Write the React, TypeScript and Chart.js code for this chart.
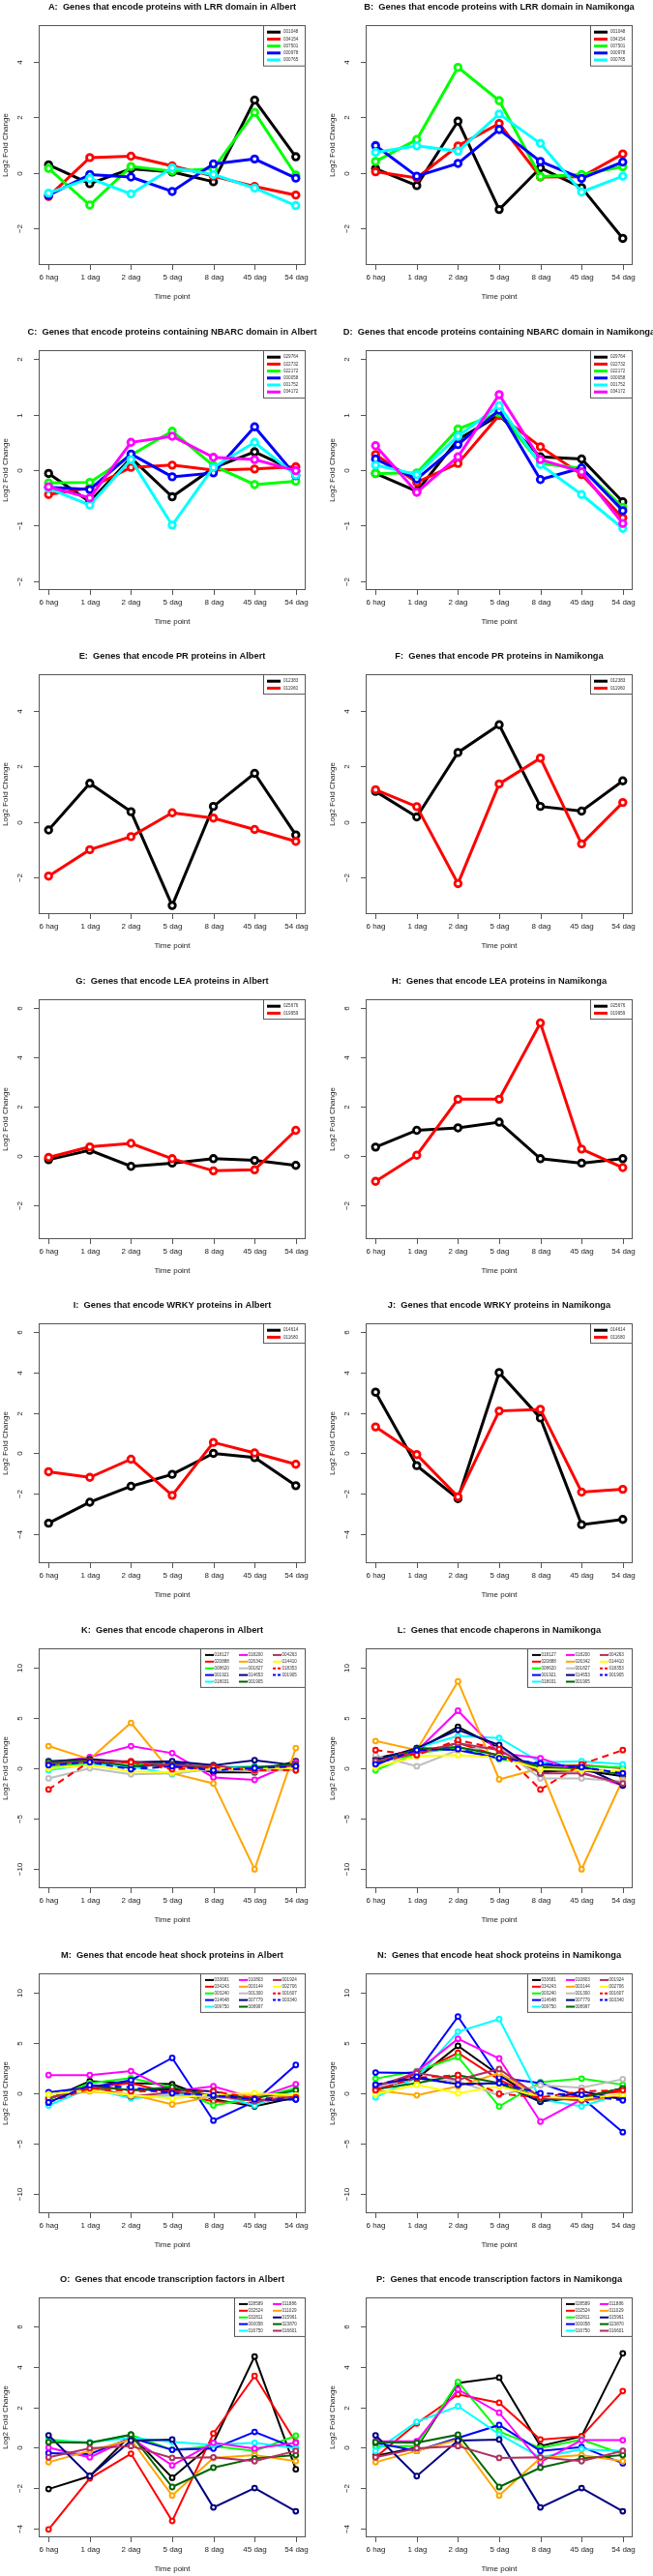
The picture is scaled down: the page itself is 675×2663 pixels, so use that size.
import React, { useEffect, useRef } from "react";
import { Chart, registerables } from "chart.js";
Chart.register(...registerables);

// ---------- data ----------
const timeLabels = ["6 hag", "1 dag", "2 dag", "5 dag", "8 dag", "45 dag", "54 dag"];

const lrrGenes = ["001048", "034154", "007501", "000978", "000765"];
const lrrColors = ["#000000", "#FF0000", "#00FF00", "#0000FF", "#00FFFF"];
const aValues = [
  [0.29, -0.39, 0.15, 0.03, -0.32, 2.62, 0.58],
  [-0.85, 0.55, 0.6, 0.25, -0.12, -0.49, -0.8],
  [0.16, -1.16, 0.23, 0.06, 0.15, 2.18, -0.08],
  [-0.81, -0.06, -0.15, -0.67, 0.32, 0.5, -0.19],
  [-0.73, -0.2, -0.76, 0.18, -0.06, -0.55, -1.18],
];
const bValues = [
  [0.15, -0.46, 1.86, -1.32, 0.18, -0.53, -2.36],
  [0.04, -0.18, 0.97, 1.78, -0.15, -0.14, 0.68],
  [0.41, 1.2, 3.8, 2.6, -0.13, -0.06, 0.22],
  [0.98, -0.12, 0.34, 1.56, 0.41, -0.2, 0.39],
  [0.74, 0.97, 0.78, 2.12, 1.06, -0.69, -0.12],
];

const nbarcGenes = ["029764", "022732", "022172", "000058", "001752", "034172"];
const nbarcColors = ["#000000", "#FF0000", "#00FF00", "#0000FF", "#00FFFF", "#FF00FF"];
const cValues = [
  [-0.06, -0.57, 0.22, -0.48, 0.04, 0.33, -0.02],
  [-0.44, -0.32, 0.05, 0.09, 0.0, 0.02, 0.06],
  [-0.23, -0.22, 0.27, 0.7, 0.08, -0.26, -0.2],
  [-0.31, -0.35, 0.29, -0.12, -0.05, 0.78, -0.1],
  [-0.33, -0.63, 0.19, -0.99, 0.05, 0.5, -0.09],
  [-0.3, -0.5, 0.5, 0.61, 0.23, 0.19, -0.01],
];
const dValues = [
  [-0.06, -0.38, 0.55, 0.99, 0.24, 0.2, -0.57],
  [0.28, -0.22, 0.12, 0.99, 0.42, -0.08, -0.86],
  [-0.06, -0.05, 0.74, 1.03, 0.12, 0.03, -0.67],
  [0.2, -0.16, 0.46, 1.08, -0.17, 0.04, -0.73],
  [0.09, -0.08, 0.61, 1.16, 0.1, -0.44, -1.05],
  [0.44, -0.4, 0.24, 1.36, 0.19, -0.03, -0.96],
];

const prGenes = ["012383", "011960"];
const twoColors = ["#000000", "#FF0000"];
const eValues = [
  [-0.29, 1.39, 0.37, -3.01, 0.56, 1.75, -0.47],
  [-1.95, -1.0, -0.53, 0.33, 0.14, -0.27, -0.7],
];
const fValues = [
  [1.1, 0.18, 2.5, 3.5, 0.56, 0.39, 1.48],
  [1.16, 0.55, -2.22, 1.37, 2.3, -0.79, 0.7],
];

const leaGenes = ["025676", "019959"];
const gValues = [
  [-0.14, 0.24, -0.41, -0.28, -0.1, -0.17, -0.37],
  [-0.05, 0.38, 0.52, -0.1, -0.59, -0.55, 1.05],
];
const hValues = [
  [0.37, 1.05, 1.15, 1.38, -0.1, -0.28, -0.1],
  [-1.02, 0.04, 2.31, 2.31, 5.4, 0.29, -0.46],
];

const wrkyGenes = ["014614", "011680"];
const iValues = [
  [-3.46, -2.42, -1.63, -1.04, 0.0, -0.21, -1.6],
  [-0.91, -1.19, -0.29, -2.08, 0.54, 0.02, -0.54],
];
const jValues = [
  [3.03, -0.61, -2.24, 4.0, 1.75, -3.53, -3.27],
  [1.31, -0.06, -2.15, 2.1, 2.18, -1.92, -1.78],
];

const chapGenes = ["018127", "020888", "008620", "001921", "018031", "018200", "026342",
  "001827", "014653", "001905", "004263", "014410", "018353", "001905"];
const manyColors = ["#000000", "#FF0000", "#00FF00", "#0000FF", "#00FFFF", "#FF00FF", "#FFA500",
  "#BEBEBE", "#000080", "#006400", "#B03060", "#FFFF00", "#FF0000", "#0000FF"];
const manyDashed = [false, false, false, false, false, false, false, false, false, false, false, false, true, true];
const kValues = [
  [0.6, 0.8, 0.6, 0.5, -0.4, -0.4, 0.7],
  [0.3, 0.7, 0.7, 0.1, 0.3, -0.2, -0.2],
  [0.2, 0.5, 0.3, 0.5, 0.1, 0.1, 0.2],
  [0.5, 0.7, 0.0, 0.6, -0.2, 0.1, 0.2],
  [-0.2, 0.4, 0.2, -0.6, 0.1, 0.2, 0.1],
  [0.5, 1.1, 2.2, 1.5, -0.9, -1.15, 0.6],
  [2.2, 0.9, 4.5, -0.5, -1.5, -10.0, 2.0],
  [-1.0, 0.0, -0.6, -0.5, -0.1, -0.3, -0.2],
  [0.7, 0.9, 0.6, 0.7, 0.3, 0.8, 0.3],
  [0.6, 0.8, 0.2, 0.4, 0.0, 0.1, 0.4],
  [0.4, 0.7, 0.6, 0.3, 0.2, -0.2, 0.3],
  [0.0, 0.3, -0.3, -0.4, 0.0, -0.1, 0.0],
  [-2.1, 0.7, 0.6, -0.1, 0.1, -0.2, -0.2],
  [0.3, 0.6, -0.1, 0.2, -0.2, 0.0, 0.2],
];
const lValues = [
  [1.0, 1.8, 4.1, 2.0, -0.3, -0.2, -0.8],
  [0.5, 1.5, 2.5, 1.2, 0.2, 0.3, 0.0],
  [-0.2, 1.5, 2.0, 0.9, 0.3, 0.2, 0.1],
  [0.3, 2.0, 1.8, 1.0, 0.4, 0.1, -0.6],
  [0.6, 2.0, 3.2, 3.0, 0.6, 0.7, 0.4],
  [0.6, 1.7, 5.7, 1.5, 1.0, -0.4, -1.7],
  [2.7, 1.8, 8.6, -1.1, 0.0, -10.0, -1.1],
  [1.3, 0.2, 1.8, 2.1, -1.0, -1.0, -1.3],
  [0.8, 2.0, 3.8, 2.3, -0.5, 0.2, -1.7],
  [0.5, 1.9, 2.1, 1.3, 0.1, -0.1, -0.5],
  [0.7, 1.5, 2.5, 1.8, -0.5, -0.5, -1.5],
  [0.1, 1.2, 1.3, 1.1, -0.1, -0.2, -0.3],
  [1.8, 1.3, 2.8, 1.9, -2.1, 0.4, 1.8],
  [0.4, 1.8, 1.9, 1.0, 0.5, 0.1, -0.5],
];

const hspGenes = ["033681", "034243", "003240", "014648", "009750", "010803", "003144",
  "001300", "007779", "008997", "001924", "002706", "001607", "003340"];
const mValues = [
  [-0.6, 1.2, 1.0, 0.9, -0.6, -1.3, -0.4],
  [-0.5, 0.6, 1.0, 0.0, -0.8, -1.0, -0.2],
  [-0.6, 1.0, 1.5, 0.6, -1.2, -0.5, 0.5],
  [0.1, 0.6, 1.3, 3.5, -2.7, -0.8, 2.8],
  [-1.2, 0.5, -0.5, -0.2, -0.1, -1.2, 0.3],
  [1.8, 1.8, 2.2, 0.2, 0.7, -0.5, 0.9],
  [-0.4, 0.2, -0.1, -1.1, -0.3, -0.2, -0.3],
  [-0.8, 0.4, -0.3, -0.2, -0.4, -0.6, -0.5],
  [-0.9, 0.8, 0.3, 0.4, 0.2, -0.7, -0.6],
  [-0.5, 0.7, 0.3, 0.6, -0.3, -0.5, 0.3],
  [-0.5, 0.7, -0.3, 0.1, -0.2, -0.8, -0.3],
  [-0.1, 0.3, -0.2, -0.5, -0.1, 0.0, -0.2],
  [-0.9, 0.5, 0.2, 0.2, 0.2, -0.5, -0.4],
  [-0.9, 0.8, 0.6, 0.0, -0.2, -0.6, -0.6],
];
const nValues = [
  [0.55, 1.45, 4.7, 1.8, -0.8, -0.4, 0.5],
  [0.2, 2.0, 4.0, 1.35, -0.6, -0.25, 0.2],
  [1.45, 2.2, 3.6, -1.3, 1.1, 1.45, 0.85],
  [2.05, 2.0, 7.6, 1.55, 1.0, -0.4, -3.85],
  [-0.4, 1.55, 6.1, 7.35, -0.6, -1.3, -0.05],
  [0.4, 2.15, 5.4, 3.45, -2.8, -0.6, -0.25],
  [0.3, -0.2, 0.7, 2.0, -0.4, -0.75, -0.35],
  [0.6, 1.5, 1.2, -0.2, 0.8, 0.55, 1.4],
  [0.85, 1.5, 0.9, 1.0, -0.85, 0.2, -0.6],
  [0.4, 1.0, 1.8, 1.0, -0.6, -0.5, 0.5],
  [0.7, 2.0, 1.35, 2.4, -0.4, -0.7, -0.1],
  [-0.1, 0.85, 0.0, 0.7, -0.35, -0.5, -0.15],
  [0.3, 1.55, 1.8, -0.05, -0.4, 0.2, 0.3],
  [0.85, 1.65, 0.85, 1.0, 0.0, -0.15, -0.7],
];

const tfGenes = ["028589", "032524", "032811", "000058", "016750", "011886", "011029", "015961", "023870", "016601"];
const tfColors = ["#000000", "#FF0000", "#00FF00", "#0000FF", "#00FFFF", "#FF00FF", "#FFA500", "#000080", "#006400", "#B03060"];
const oValues = [
  [-2.05, -1.41, 0.64, -1.49, 0.24, 4.51, -1.07],
  [-4.05, -1.52, -0.3, -3.63, 0.7, 3.55, 0.27],
  [0.4, 0.24, 0.64, -0.11, 0.08, -0.16, 0.59],
  [-0.27, -0.32, 0.48, -0.11, -0.05, 0.78, -0.03],
  [0.32, 0.27, 0.48, 0.29, 0.14, 0.24, -0.03],
  [0.0, -0.48, 0.48, -0.88, 0.24, -0.05, 0.24],
  [-0.72, -0.16, 0.4, -2.37, -0.51, -0.37, -0.67],
  [0.61, -1.41, 0.35, 0.4, -2.96, -2.0, -3.15],
  [0.27, 0.24, 0.64, -1.95, -0.99, -0.53, -0.37],
  [-0.48, -0.03, 0.08, -0.51, -0.48, -0.67, -0.16],
];
const pValues = [
  [-0.4, 0.0, 3.2, 3.47, 0.08, 0.56, 4.67],
  [-0.48, 1.2, 2.64, 2.22, 0.4, 0.56, 2.8],
  [0.08, 0.08, 3.25, 0.8, -0.02, 0.4, -0.32],
  [0.24, -0.16, 0.48, 1.12, -0.16, 0.03, -0.77],
  [-0.16, 1.28, 2.05, 0.67, -0.48, -0.08, -0.16],
  [0.32, 0.32, 2.88, 1.73, -0.72, 0.37, 0.37],
  [-0.72, -0.16, 0.4, -2.37, -0.51, -0.37, -0.67],
  [0.61, -1.41, 0.35, 0.4, -2.96, -2.0, -3.15],
  [0.27, 0.24, 0.64, -1.95, -0.99, -0.53, -0.37],
  [-0.48, -0.03, 0.08, -0.51, -0.48, -0.67, -0.16],
];

const ticksLrr = [-2, 0, 2, 4];
const ticksNbarc = [-2, -1, 0, 1, 2];
const ticksLea = [-2, 0, 2, 4, 6];
const ticksWrky = [-4, -2, 0, 2, 4, 6];
const ticksBig = [-10, -5, 0, 5, 10];
const ticksTf = [-4, -2, 0, 2, 4, 6];

// ---------- panel table ----------
type Panel = {
  title: string; genes: string[]; values: number[][]; colors: string[]; dashed?: boolean[];
  ylim: [number, number]; yTicks: number[]; ncol: number; thin?: boolean;
};

const panels: Panel[] = [
  { title: "A:  Genes that encode proteins with LRR domain in Albert", genes: lrrGenes, values: aValues, colors: lrrColors, ylim: [-3, 5], yTicks: ticksLrr, ncol: 1 },
  { title: "B:  Genes that encode proteins with LRR domain in Namikonga", genes: lrrGenes, values: bValues, colors: lrrColors, ylim: [-3, 5], yTicks: ticksLrr, ncol: 1 },
  { title: "C:  Genes that encode proteins containing NBARC domain in Albert", genes: nbarcGenes, values: cValues, colors: nbarcColors, ylim: [-2, 2], yTicks: ticksNbarc, ncol: 1 },
  { title: "D:  Genes that encode proteins containing NBARC domain in Namikonga", genes: nbarcGenes, values: dValues, colors: nbarcColors, ylim: [-2, 2], yTicks: ticksNbarc, ncol: 1 },
  { title: "E:  Genes that encode PR proteins in Albert", genes: prGenes, values: eValues, colors: twoColors, ylim: [-3, 5], yTicks: ticksLrr, ncol: 1 },
  { title: "F:  Genes that encode PR proteins in Namikonga", genes: prGenes, values: fValues, colors: twoColors, ylim: [-3, 5], yTicks: ticksLrr, ncol: 1 },
  { title: "G:  Genes that encode LEA proteins in Albert", genes: leaGenes, values: gValues, colors: twoColors, ylim: [-3, 6], yTicks: ticksLea, ncol: 1 },
  { title: "H:  Genes that encode LEA proteins in Namikonga", genes: leaGenes, values: hValues, colors: twoColors, ylim: [-3, 6], yTicks: ticksLea, ncol: 1 },
  { title: "I:  Genes that encode WRKY proteins in Albert", genes: wrkyGenes, values: iValues, colors: twoColors, ylim: [-5, 6], yTicks: ticksWrky, ncol: 1 },
  { title: "J:  Genes that encode WRKY proteins in Namikonga", genes: wrkyGenes, values: jValues, colors: twoColors, ylim: [-5, 6], yTicks: ticksWrky, ncol: 1 },
  { title: "K:  Genes that encode chaperons in Albert", genes: chapGenes, values: kValues, colors: manyColors, dashed: manyDashed, ylim: [-11, 11], yTicks: ticksBig, ncol: 3, thin: true },
  { title: "L:  Genes that encode chaperons in Namikonga", genes: chapGenes, values: lValues, colors: manyColors, dashed: manyDashed, ylim: [-11, 11], yTicks: ticksBig, ncol: 3, thin: true },
  { title: "M:  Genes that encode heat shock proteins in Albert", genes: hspGenes, values: mValues, colors: manyColors, dashed: manyDashed, ylim: [-11, 11], yTicks: ticksBig, ncol: 3, thin: true },
  { title: "N:  Genes that encode heat shock proteins in Namikonga", genes: hspGenes, values: nValues, colors: manyColors, dashed: manyDashed, ylim: [-11, 11], yTicks: ticksBig, ncol: 3, thin: true },
  { title: "O:  Genes that encode transcription factors in Albert", genes: tfGenes, values: oValues, colors: tfColors, ylim: [-4, 7], yTicks: ticksTf, ncol: 2, thin: true },
  { title: "P:  Genes that encode transcription factors in Namikonga", genes: tfGenes, values: pValues, colors: tfColors, ylim: [-4, 7], yTicks: ticksTf, ncol: 2, thin: true },
];

const PW = 337;
const PH = 336;
const BOX_L = 40, BOX_R = 316, BOX_T = 26, BOX_B = 274;
const FONT = '"Liberation Sans", Arial, Helvetica, sans-serif';
const TXT = "#222";

function decorPlugin(p: Panel) {
  return {
    id: "rdecor",
    afterDatasetsDraw(chart: any) {
      const ctx: CanvasRenderingContext2D = chart.ctx;
      const { left, right, top, bottom } = chart.chartArea;
      const xs = chart.scales.x, ys = chart.scales.y;
      ctx.save();
      // box
      ctx.strokeStyle = "#555";
      ctx.lineWidth = 1;
      ctx.setLineDash([]);
      ctx.strokeRect(left + 0.5, top + 0.5, right - left - 1, bottom - top - 1);
      // x ticks + labels
      ctx.fillStyle = TXT;
      ctx.font = `8px ${FONT}`;
      ctx.textAlign = "center";
      ctx.textBaseline = "middle";
      timeLabels.forEach((lab, j) => {
        const px = Math.round(xs.getPixelForValue(j)) + 0.5;
        ctx.beginPath();
        ctx.moveTo(px, bottom);
        ctx.lineTo(px, bottom + 5);
        ctx.stroke();
        ctx.fillText(lab, px, bottom + 13);
      });
      ctx.fillText("Time point", (left + right) / 2, bottom + 33);
      // y ticks + labels
      p.yTicks.forEach((v) => {
        const py = Math.round(ys.getPixelForValue(v)) + 0.5;
        ctx.beginPath();
        ctx.moveTo(left, py);
        ctx.lineTo(left - 5, py);
        ctx.stroke();
        ctx.save();
        ctx.translate(left - 19, py);
        ctx.rotate(-Math.PI / 2);
        ctx.fillText(String(v).replace("-", "\u2212"), 0, 0);
        ctx.restore();
      });
      ctx.save();
      ctx.translate(left - 34, (top + bottom) / 2);
      ctx.rotate(-Math.PI / 2);
      ctx.fillText("Log2 Fold Change", 0, 0);
      ctx.restore();
      // title
      ctx.fillStyle = "#111";
      ctx.font = `bold 9.3px ${FONT}`;
      ctx.fillText(p.title, (left + right) / 2, top - 19);
      // legend
      const n = p.genes.length;
      const nrow = Math.ceil(n / p.ncol);
      const rowH = p.ncol > 1 ? 6.9 : 7.2;
      const single = p.ncol === 1;
      const lw = single ? 44 : 4 + p.ncol * 35;
      const lx = right - lw;
      const ly = top;
      const lh = (nrow + 1) * rowH - 0.5;
      ctx.fillStyle = "#fff";
      ctx.fillRect(lx, ly, lw, lh);
      ctx.strokeStyle = "#555";
      ctx.lineWidth = 1;
      ctx.strokeRect(lx + 0.5, ly + 0.5, lw - 1, lh - 1);
      ctx.font = `4.6px ${FONT}`;
      ctx.textAlign = "left";
      p.genes.forEach((g, i) => {
        const col = Math.floor(i / nrow);
        const row = i % nrow;
        const yy = ly + rowH * (row + 1);
        const x0 = single ? lx + 4 : lx + 5 + col * 35;
        const x1 = single ? lx + 18 : x0 + 9;
        ctx.strokeStyle = p.colors[i];
        ctx.lineWidth = p.thin ? 2 : 3;
        ctx.setLineDash(p.dashed && p.dashed[i] ? [3, 2] : []);
        ctx.beginPath();
        ctx.moveTo(x0, yy);
        ctx.lineTo(x1, yy);
        ctx.stroke();
        ctx.setLineDash([]);
        ctx.fillStyle = "#333";
        ctx.fillText(g, single ? lx + 21 : x1 + 0.5, yy);
      });
      ctx.restore();
    },
  };
}

function PanelChart({ p, left, top }: { p: Panel; left: number; top: number }) {
  const ref = useRef<HTMLCanvasElement | null>(null);
  useEffect(() => {
    if (!ref.current) return;
    const r = p.ylim[1] - p.ylim[0];
    const n = p.values.length;
    const lineW = p.thin ? 2 : 3;
    const chart = new Chart(ref.current, {
      type: "line",
      data: {
        datasets: p.values.map((vals, i) => ({
          label: p.genes[i],
          data: vals.map((y, j) => ({ x: j, y })),
          borderColor: p.colors[i],
          borderWidth: lineW,
          borderDash: p.dashed && p.dashed[i] ? [7, 5] : [],
          pointRadius: p.thin ? 2.4 : 3.3,
          pointBorderWidth: p.thin ? 2 : 2.8,
          pointBackgroundColor: "#ffffff",
          pointBorderColor: p.colors[i],
          pointStyle: "circle",
          tension: 0,
          fill: false,
          order: n - 1 - i,
        })),
      },
      options: {
        responsive: false,
        animation: false,
        events: [],
        layout: { padding: { left: BOX_L, right: PW - BOX_R, top: BOX_T, bottom: PH - BOX_B } },
        scales: {
          x: { type: "linear", min: -0.24, max: 6.24, display: false },
          y: { type: "linear", min: p.ylim[0] - 0.04 * r, max: p.ylim[1] + 0.04 * r, display: false },
        },
        plugins: { legend: { display: false }, tooltip: { enabled: false }, title: { display: false } },
      },
      plugins: [decorPlugin(p)],
    } as any);
    return () => chart.destroy();
  }, [p]);
  return (
    <canvas
      ref={ref}
      width={PW}
      height={PH}
      style={{ position: "absolute", left, top, width: PW, height: PH, display: "block" }}
    />
  );
}

export default function App() {
  return (
    <div
      style={{
        position: "absolute",
        left: 0,
        top: 0,
        width: 675,
        height: 2663,
        overflow: "hidden",
        background: "#fff",
      }}
    >
      {panels.map((p, k) => {
        const row = Math.floor(k / 2);
        const col = k % 2;
        return <PanelChart key={k} p={p} left={col === 0 ? 0 : 338} top={Math.round(row * 335.6)} />;
      })}
    </div>
  );
}
